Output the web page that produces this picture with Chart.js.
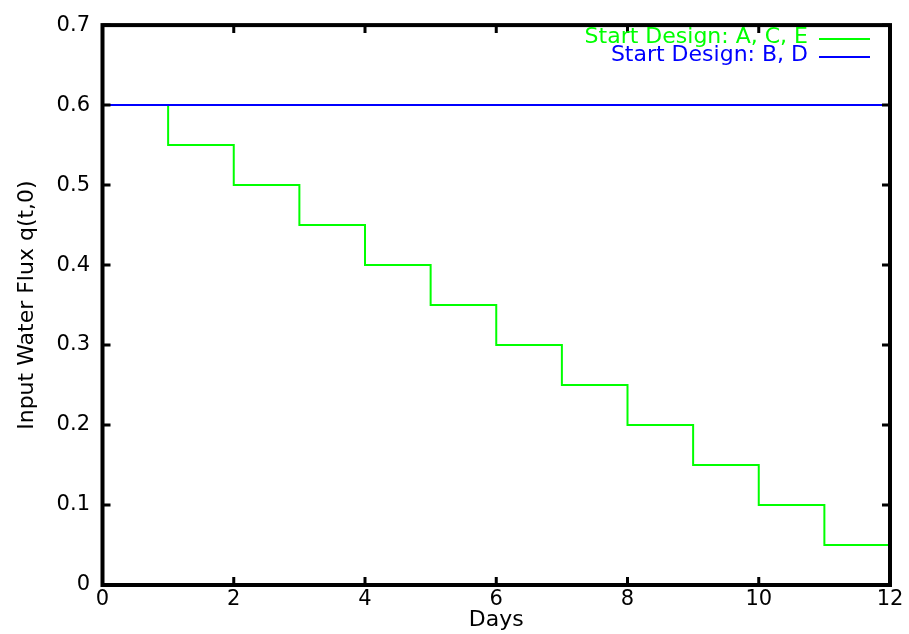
<!DOCTYPE html>
<html>
<head>
<meta charset="utf-8">
<script src="https://cdn.jsdelivr.net/npm/chart.js@4"></script>
<style>
  body { margin: 0; background: #fff; }
  #wrap { width: 909px; height: 634px; }
</style>
</head>
<body>
<div id="wrap"><canvas id="chart" width="909" height="634"></canvas></div>
<script>
const days = [0, 1, 2, 3, 4, 5, 6, 7, 8, 9, 10, 11, 12];
const fluxACE = [0.6, 0.55, 0.5, 0.45, 0.4, 0.35, 0.3, 0.25, 0.2, 0.15, 0.1, 0.05, 0.05];
const fluxBD = [0.6, 0.6, 0.6, 0.6, 0.6, 0.6, 0.6, 0.6, 0.6, 0.6, 0.6, 0.6, 0.6];
const seriesLabels = ['Start Design: A, C, E', 'Start Design: B, D'];
const seriesColors = ['#00ff00', '#0000ff'];

const FONT = 'DejaVu Sans';

function toPoints(xs, ys) {
  return xs.map((x, i) => ({ x: x, y: ys[i] }));
}

// gnuplot style frame with inward ticks on all four sides
const framePlugin = {
  id: 'frame',
  afterDraw(chart) {
    const ctx = chart.ctx;
    const a = chart.chartArea;
    const xs = chart.scales.x;
    const ys = chart.scales.y;
    const tl = 8;
    ctx.save();
    ctx.strokeStyle = '#000';
    ctx.lineWidth = 3;
    xs.ticks.forEach((t) => {
      const px = xs.getPixelForValue(t.value);
      ctx.beginPath();
      ctx.moveTo(px, a.bottom); ctx.lineTo(px, a.bottom - tl);
      ctx.moveTo(px, a.top); ctx.lineTo(px, a.top + tl);
      ctx.stroke();
    });
    ys.ticks.forEach((t) => {
      const py = ys.getPixelForValue(t.value);
      ctx.beginPath();
      ctx.moveTo(a.left, py); ctx.lineTo(a.left + tl, py);
      ctx.moveTo(a.right, py); ctx.lineTo(a.right - tl, py);
      ctx.stroke();
    });
    ctx.lineWidth = 4;
    ctx.strokeRect(a.left, a.top, a.right - a.left, a.bottom - a.top);

    // key, top right, gnuplot style
    ctx.font = '22px "' + FONT + '"';
    ctx.textAlign = 'right';
    ctx.textBaseline = 'alphabetic';
    ctx.lineWidth = 2;
    const rows = [43, 61];
    seriesLabels.forEach((lab, i) => {
      ctx.fillStyle = seriesColors[i];
      ctx.strokeStyle = seriesColors[i];
      ctx.fillText(lab, 808, rows[i]);
      ctx.beginPath();
      ctx.moveTo(819, rows[i] - 4);
      ctx.lineTo(870, rows[i] - 4);
      ctx.stroke();
    });
    ctx.restore();
  }
};

const ctx = document.getElementById('chart').getContext('2d');
const chart = new Chart(ctx, {
  type: 'line',
  data: {
    datasets: [
      {
        label: seriesLabels[1],
        data: toPoints(days, fluxBD),
        borderColor: seriesColors[1],
        borderWidth: 2,
        pointRadius: 0,
        stepped: 'before',
        fill: false
      },
      {
        label: seriesLabels[0],
        data: toPoints(days, fluxACE),
        borderColor: seriesColors[0],
        borderWidth: 2,
        pointRadius: 0,
        stepped: 'before',
        fill: false
      }
    ]
  },
  options: {
    responsive: false,
    animation: false,
    layout: { padding: { left: 0, top: 21, right: 19, bottom: 0 } },
    plugins: {
      legend: { display: false },
      tooltip: { enabled: false }
    },
    scales: {
      x: {
        type: 'linear',
        min: 0,
        max: 12,
        afterFit: (s) => { s.height = 49; },
        grid: { display: false, drawTicks: false },
        border: { display: false },
        ticks: {
          stepSize: 2,
          padding: 2,
          color: '#000',
          maxRotation: 0,
          font: { family: FONT, size: 21 }
        },
        title: {
          display: true,
          text: 'Days',
          color: '#000',
          padding: { top: 0, bottom: 1 },
          font: { family: FONT, size: 22 }
        }
      },
      y: {
        min: 0,
        max: 0.7,
        afterFit: (s) => { s.width = 102.5; },
        grid: { display: false, drawTicks: false },
        border: { display: false },
        ticks: {
          stepSize: 0.1,
          padding: 12.5,
          color: '#000',
          font: { family: FONT, size: 21 }
        },
        title: {
          display: true,
          text: 'Input Water Flux q(t,0)',
          color: '#000',
          padding: { top: 14, bottom: 0 },
          font: { family: FONT, size: 22 }
        }
      }
    }
  },
  plugins: [framePlugin]
});
</script>
</body>
</html>
